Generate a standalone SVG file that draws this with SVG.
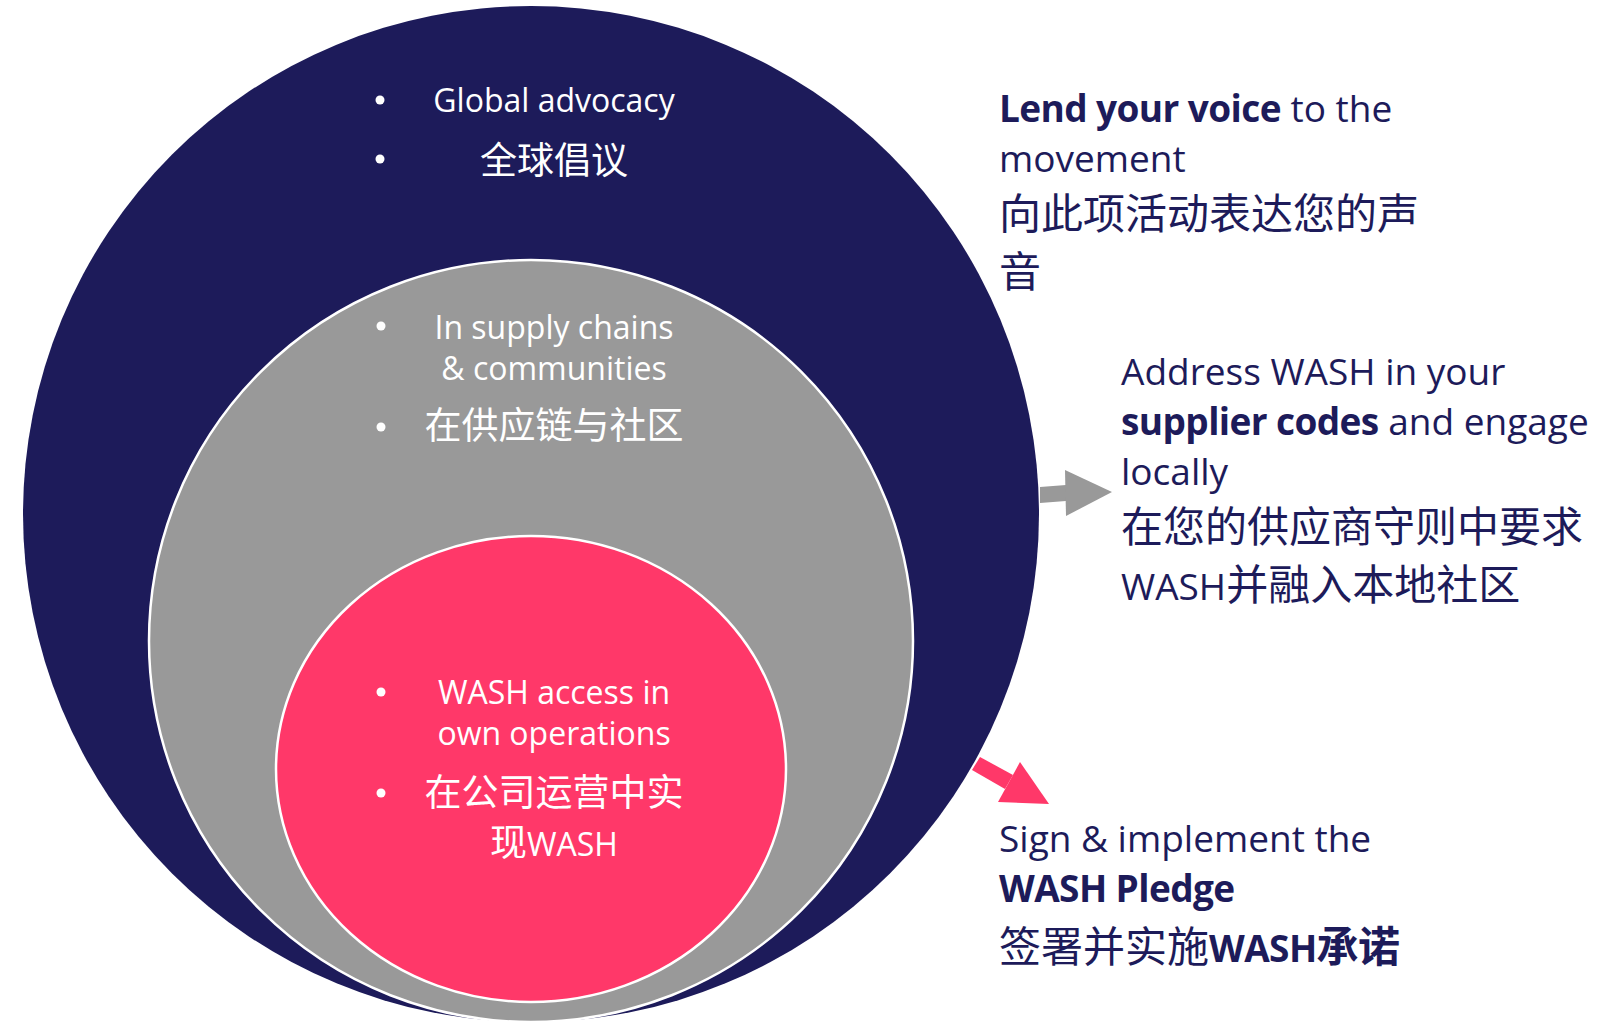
<svg xmlns="http://www.w3.org/2000/svg" width="1600" height="1024" viewBox="0 0 1600 1024">
  <style>
    .lat { font-family: "Open Sans", "Noto Sans CJK SC", sans-serif; }
    .cjk { font-family: "Noto Sans CJK SC", "Open Sans", sans-serif; }
    .w { fill: #ffffff; }
    .n { fill: #1d1b5a; }
    .b { font-weight: bold; letter-spacing: -0.6px; }
    .ring { stroke: #ffffff; stroke-width: 2.5; }
    .dot { fill: #ffffff; }
  </style>
  <rect width="1600" height="1024" fill="#ffffff"/>

  <!-- outer circle: global advocacy -->
  <g id="global-advocacy">
    <ellipse cx="531" cy="514" rx="508" ry="508" fill="#1d1b5a"/>
    <circle class="dot" cx="380" cy="100" r="4.5"/>
    <text class="lat w" x="554" y="112" font-size="32" text-anchor="middle">Global advocacy</text>
    <circle class="dot" cx="380" cy="159" r="4.5"/>
    <text class="cjk w" x="554" y="174" font-size="37" text-anchor="middle">全球倡议</text>
  </g>

  <!-- middle circle: supply chains and communities -->
  <g id="supply-chains">
    <ellipse class="ring" cx="531" cy="641" rx="382" ry="381" fill="#999999"/>
    <circle class="dot" cx="381" cy="326" r="4.5"/>
    <text class="lat w" x="554" y="339" font-size="32" text-anchor="middle">In supply chains</text>
    <text class="lat w" x="554" y="380" font-size="32" text-anchor="middle">&amp; communities</text>
    <circle class="dot" cx="381" cy="427" r="4.5"/>
    <text class="cjk w" x="554" y="439" font-size="37" text-anchor="middle">在供应链与社区</text>
  </g>

  <!-- inner ellipse: own operations -->
  <g id="own-operations">
    <ellipse class="ring" cx="531" cy="769" rx="255" ry="233" fill="#ff3869"/>
    <circle class="dot" cx="381" cy="692" r="4.5"/>
    <text class="lat w" x="554" y="704" font-size="32" text-anchor="middle">WASH access in</text>
    <text class="lat w" x="554" y="745" font-size="32" text-anchor="middle">own operations</text>
    <circle class="dot" cx="381" cy="793" r="4.5"/>
    <text class="cjk w" x="554" y="806" font-size="37" text-anchor="middle">在公司运营中实</text>
    <text class="lat w" x="554" y="856" font-size="32" text-anchor="middle"><tspan class="cjk" font-size="37">现</tspan>WASH</text>
  </g>

  <!-- arrows pointing from the rings to the actions -->
  <g id="connectors">
    <polygon fill="#999999" points="1040,487 1066,485 1066,501 1040,503"/>
    <polygon fill="#999999" points="1065,470 1066,516 1112,492"/>
    <polygon fill="#ff3869" points="980,757 1013,775 1005,789 972,770"/>
    <polygon fill="#ff3869" points="1020,762 998,802 1049,804"/>
  </g>

  <!-- action: advocacy -->
  <g id="lend-voice">
    <text class="lat n" x="999" y="122" font-size="37"><tspan class="b">Lend your voice</tspan> to the</text>
    <text class="lat n" x="999" y="172" font-size="37">movement</text>
    <text class="cjk n" x="999" y="229" font-size="42">向此项活动表达您的声</text>
    <text class="cjk n" x="999" y="287" font-size="42">音</text>
  </g>

  <!-- action: supplier codes -->
  <g id="supplier-codes">
    <text class="lat n" x="1121" y="385" font-size="37">Address WASH in your</text>
    <text class="lat n" x="1121" y="435" font-size="37"><tspan class="b">supplier codes</tspan> and engage</text>
    <text class="lat n" x="1121" y="485" font-size="37">locally</text>
    <text class="cjk n" x="1121" y="542" font-size="42">在您的供应商守则中要求</text>
    <text class="lat n" x="1121" y="600" font-size="37">WASH<tspan class="cjk" font-size="42">并融入本地社区</tspan></text>
  </g>

  <!-- action: pledge -->
  <g id="wash-pledge">
    <text class="lat n" x="999" y="852" font-size="37">Sign &amp; implement the</text>
    <text class="lat n b" x="999" y="902" font-size="37">WASH Pledge</text>
    <text class="lat n" x="999" y="962" font-size="37"><tspan class="cjk" font-size="42">签署并实施</tspan><tspan class="b">WASH</tspan><tspan class="cjk b" font-size="42">承诺</tspan></text>
  </g>
</svg>
